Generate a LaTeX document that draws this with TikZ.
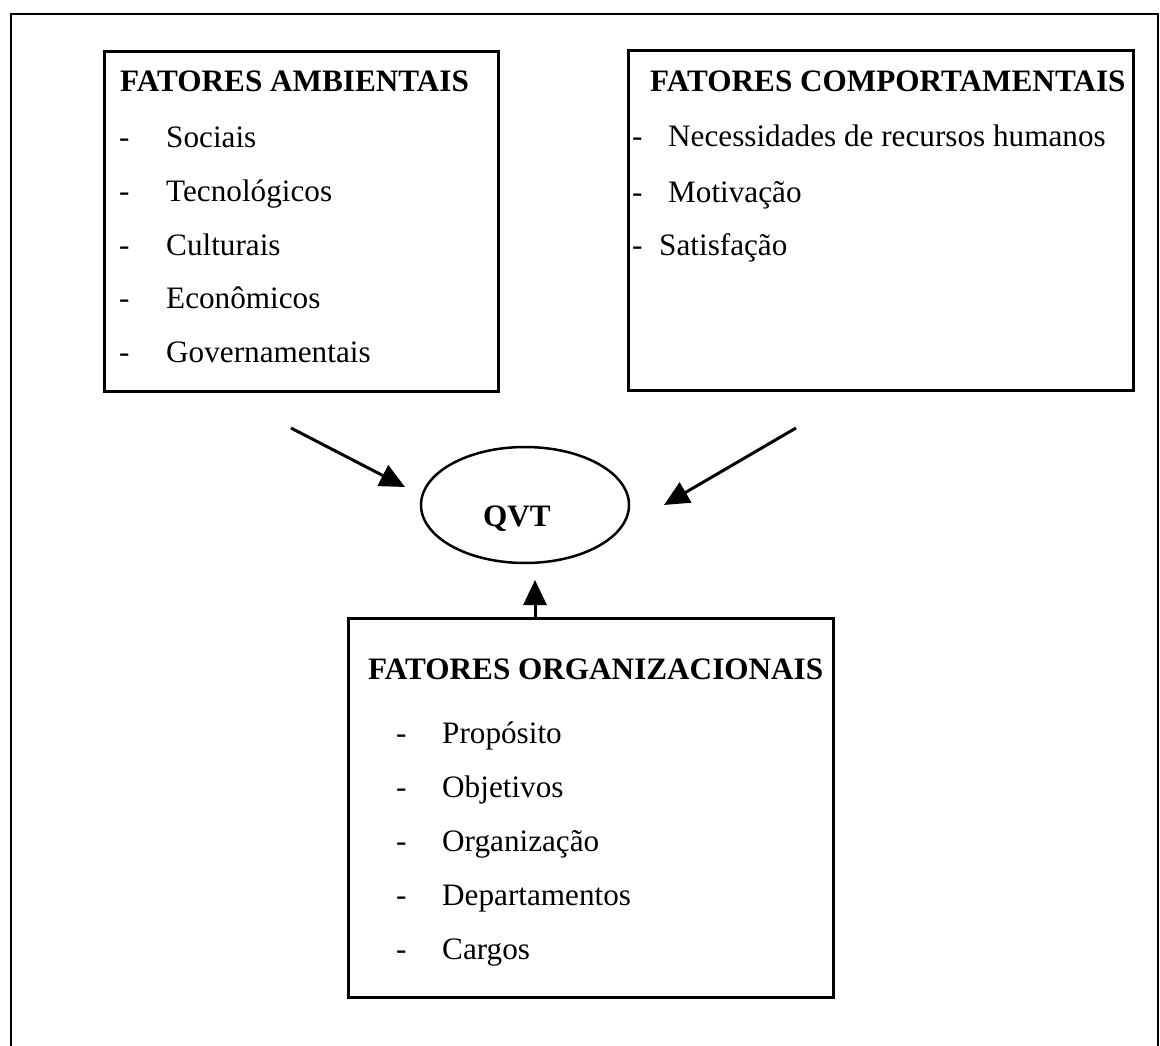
\documentclass[tikz,border=0pt]{standalone}
\usepackage{fontspec}
\setmainfont{Liberation Serif}
\usetikzlibrary{shapes.geometric,arrows.meta}
\begin{document}
\begin{tikzpicture}[x=1pt,y=-1pt,
  frame/.style={line width=2.5pt},
  box/.style={draw, line width=3pt, rectangle, inner sep=0pt},
  txt/.style={inner sep=0pt, anchor=base west, font=\fontsize{31.2}{36}\selectfont},
  ttl/.style={inner sep=0pt, anchor=base west, font=\fontsize{31.2}{36}\selectfont\bfseries},
  arr/.style={line width=3pt, -{Triangle[length=25pt,width=23pt]}}]
\useasboundingbox (0,0) rectangle (1160,1046);
% outer frame (open at the bottom)
\draw[frame] (11,1046) -- (11,14) -- (1158,14) -- (1158,1046);

% boxes
\node[box, minimum width=394pt, minimum height=339pt] (amb) at (301,221.5) {};
\node[box, minimum width=505pt, minimum height=339pt] (comp) at (880.5,220.5) {};
\node[box, minimum width=485pt, minimum height=379pt] (org) at (590.5,807.5) {};
\node[draw, ellipse, line width=2.5pt, inner sep=0pt, minimum width=208pt, minimum height=116pt] (qvt) at (525,505) {};
\node[ttl, anchor=base] (qvtT) at (517,526) {QVT};

% Fatores ambientais
\node[ttl] (ambT) at (120,92) {FATORES AMBIENTAIS};
\node[txt] (ambD1) at (119,148) {-};
\node[txt] (ambI1) at (166,148) {Sociais};
\node[txt] (ambD2) at (119,201.5) {-};
\node[txt] (ambI2) at (166,201.5) {Tecnológicos};
\node[txt] (ambD3) at (119,255) {-};
\node[txt] (ambI3) at (166,255) {Culturais};
\node[txt] (ambD4) at (119,308.5) {-};
\node[txt] (ambI4) at (166,308.5) {Econômicos};
\node[txt] (ambD5) at (119,362) {-};
\node[txt] (ambI5) at (166,362) {Governamentais};

% Fatores comportamentais
\node[ttl] (compT) at (650,92) {FATORES COMPORTAMENTAIS};
\node[txt] (compD1) at (632,147) {-};
\node[txt] (compI1) at (668,147) {Necessidades de recursos humanos};
\node[txt] (compD2) at (632,202) {-};
\node[txt] (compI2) at (668,202) {Motivação};
\node[txt] (compD3) at (632,255) {-};
\node[txt] (compI3) at (659,255) {Satisfação};

% Fatores organizacionais
\node[ttl] (orgT) at (368,679) {FATORES ORGANIZACIONAIS};
\node[txt] (orgD1) at (396,743) {-};
\node[txt] (orgI1) at (442,743) {Propósito};
\node[txt] (orgD2) at (396,797) {-};
\node[txt] (orgI2) at (442,797) {Objetivos};
\node[txt] (orgD3) at (396,851) {-};
\node[txt] (orgI3) at (442,851) {Organização};
\node[txt] (orgD4) at (396,905) {-};
\node[txt] (orgI4) at (442,905) {Departamentos};
\node[txt] (orgD5) at (396,959) {-};
\node[txt] (orgI5) at (442,959) {Cargos};

% arrows
\coordinate (tA) at (291,428);
\coordinate (hA) at (405,487);
\coordinate (tC) at (796,428);
\coordinate (hC) at (664,505);
\coordinate (hO) at (535,580);
\draw[arr] (tA) -- (hA);
\draw[arr] (tC) -- (hC);
\draw[arr] (org.north -| hO) -- (hO);
\end{tikzpicture}
\end{document}
